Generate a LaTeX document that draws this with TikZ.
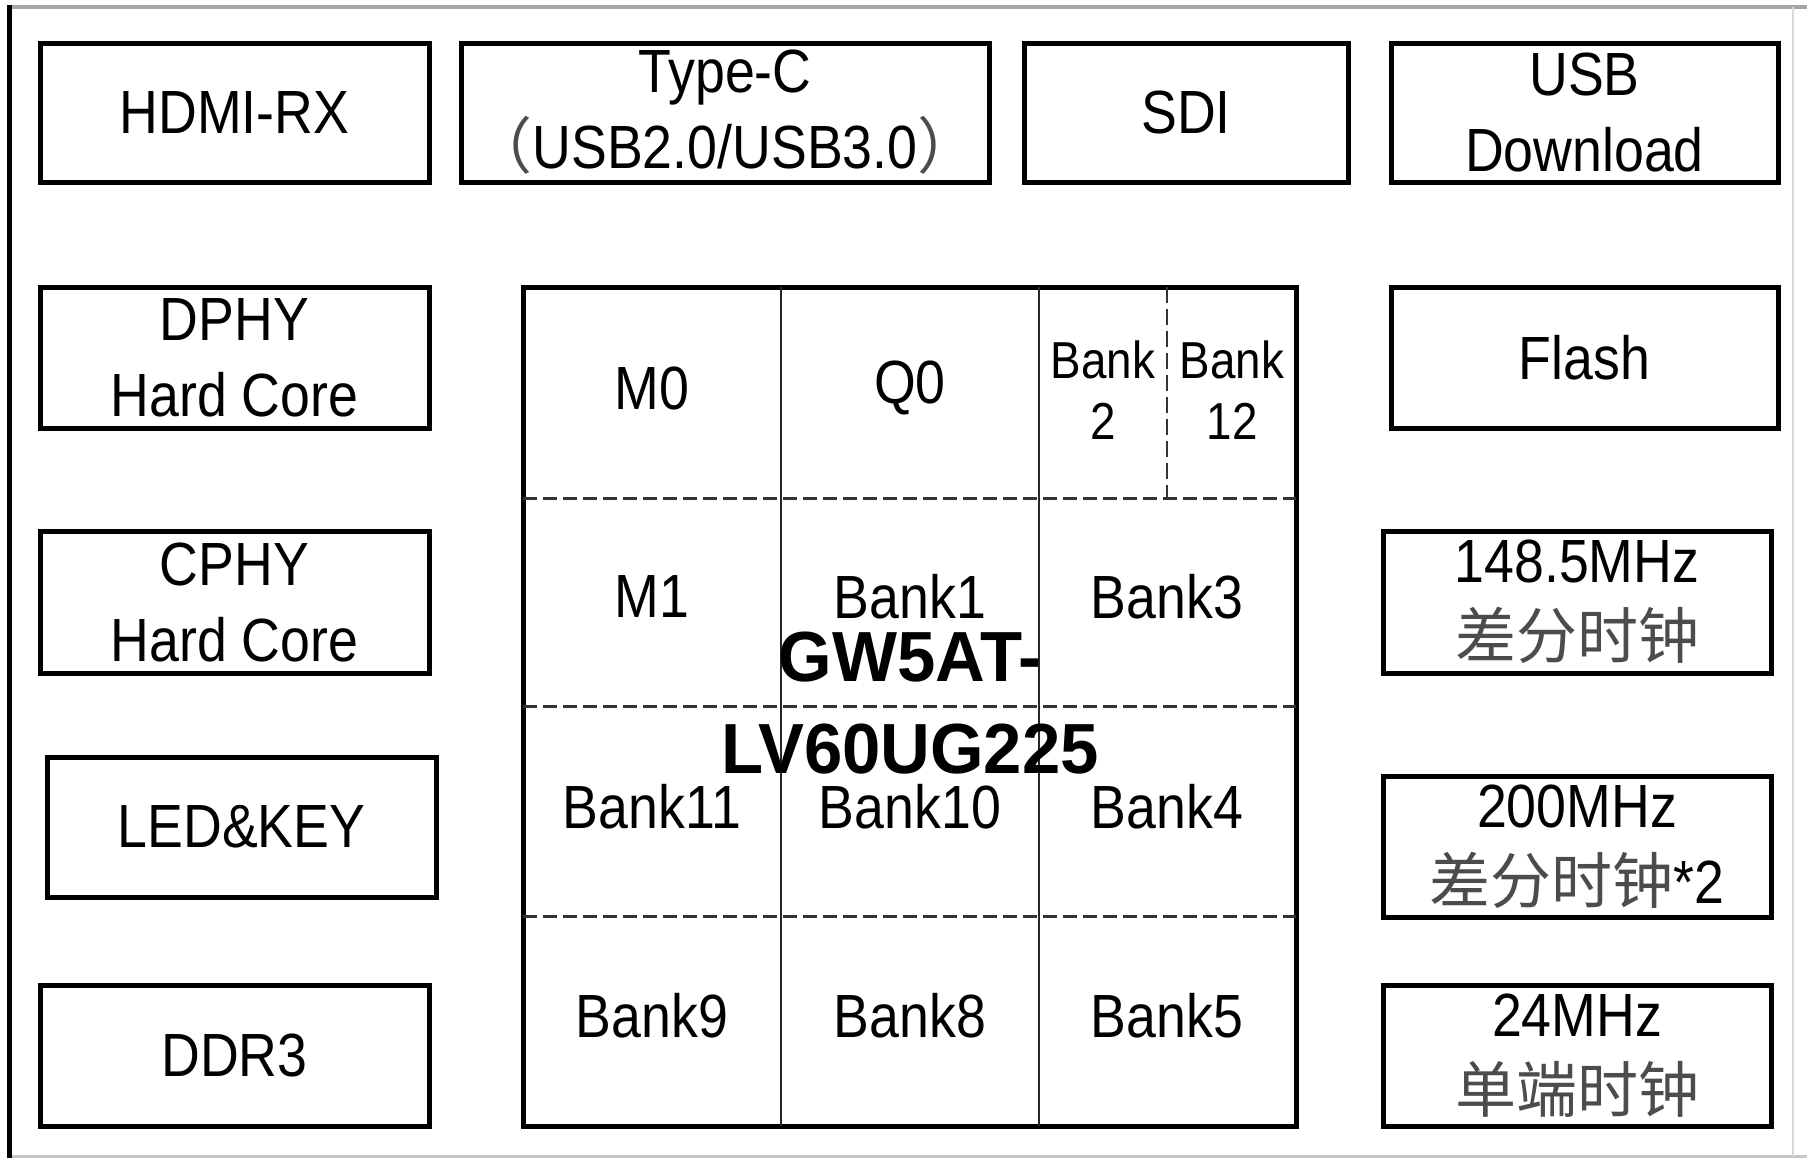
\documentclass[tikz,border=0pt]{standalone}
\usepackage{fontspec}
\setmainfont{Liberation Sans}[FakeStretch=0.88]
\newfontfamily\titlefont{Liberation Sans}[FakeStretch=0.97]
\newfontfamily\cjk{Noto Sans CJK SC}
\newcommand{\zh}[1]{{\cjk\color{black!70}#1}}
\begin{document}
\begin{tikzpicture}[x=1pt,y=-1pt,
  box/.style={draw, line width=5pt, inner sep=0pt, align=center,
    font=\fontsize{61}{76}\selectfont},
  cell/.style={inner sep=0pt, align=center, font=\fontsize{61}{76}\selectfont},
  smallcell/.style={inner sep=0pt, align=center, font=\fontsize{52}{61}\selectfont},
  grid/.style={line width=2pt, black!85},
  dgrid/.style={line width=3pt, black!80, dash pattern=on 14pt off 6pt}
]
\useasboundingbox (0,0) rectangle (1807,1160);
\fill[white] (0,0) rectangle (1807,1160);
% outer frame
\draw[gray!70, line width=4pt] (9,7) -- (1807,7);
\draw[gray!45, line width=3pt] (9,1156) -- (1807,1156);
\draw[gray!30, line width=2pt] (1793,7) -- (1793,1156);
\draw[black, line width=5pt] (9,5) -- (9,1158);

% top row
\node[box, minimum width=389, minimum height=139] (hdmi) at (234.5,112.5) {HDMI-RX};
\node[box, minimum width=528, minimum height=139] (typec) at (725,112.5) {Type-C\\\zh{（}USB2.0/USB3.0\zh{）}};
\node[box, minimum width=324, minimum height=139] (sdi) at (1186,112.5) {SDI};
\node[box, minimum width=387, minimum height=139] (usb) at (1584.5,112.5) {USB\\Download};

% left column
\node[box, minimum width=389, minimum height=141] (dphy) at (234.5,357.5) {DPHY\\Hard Core};
\node[box, minimum width=389, minimum height=142] (cphy) at (234.5,602) {CPHY\\Hard Core};
\node[box, minimum width=389, minimum height=140] (led) at (241.5,827) {LED\&KEY};
\node[box, minimum width=389, minimum height=141] (ddr) at (234.5,1055.5) {DDR3};

% right column
\node[box, minimum width=387, minimum height=141] (flash) at (1584.5,357.5) {Flash};
\node[box, minimum width=388, minimum height=142] (clkA) at (1577,602) {148.5MHz\\\zh{差分时钟}};
\node[box, minimum width=388, minimum height=141] (clkB) at (1577,846.5) {200MHz\\\zh{差分时钟}*2};
\node[box, minimum width=388, minimum height=141] (clkC) at (1577,1055.5) {24MHz\\\zh{单端时钟}};

% chip
\node[draw, line width=5pt, minimum width=773, minimum height=839, inner sep=0pt] (chip) at (909.5,706.5) {};
\draw[grid] (781,287) -- (781,1126);
\draw[grid] (1039,287) -- (1039,1126);
\draw[line width=2.5pt, black!80, dash pattern=on 16pt off 6pt] (1167,287) -- (1167,498);
\draw[dgrid] (523,498) -- (1296,498);
\draw[dgrid] (523,706) -- (1296,706);
\draw[dgrid] (523,916) -- (1296,916);

\node[cell] (m0) at (652,388) {M0};
\node[cell] (q0) at (910,388) {Q0};
\node[smallcell] (b2) at (1103,390) {Bank\\2};
\node[smallcell] (b12) at (1232,390) {Bank\\12};
\node[cell] (m1) at (652,597) {M1};
\node[cell] (b1) at (910,597) {Bank1};
\node[cell] (b3) at (1167,597) {Bank3};
\node[cell] (b11) at (652,807) {Bank11};
\node[cell] (b10) at (910,807) {Bank10};
\node[cell] (b4) at (1167,807) {Bank4};
\node[cell] (b9) at (652,1016) {Bank9};
\node[cell] (b8) at (910,1016) {Bank8};
\node[cell] (b5) at (1167,1016) {Bank5};

\node[inner sep=0pt, align=center, font=\titlefont\bfseries\fontsize{71}{92}\selectfont] (title) at (910,703) {GW5AT-\\LV60UG225};
\end{tikzpicture}
\end{document}
